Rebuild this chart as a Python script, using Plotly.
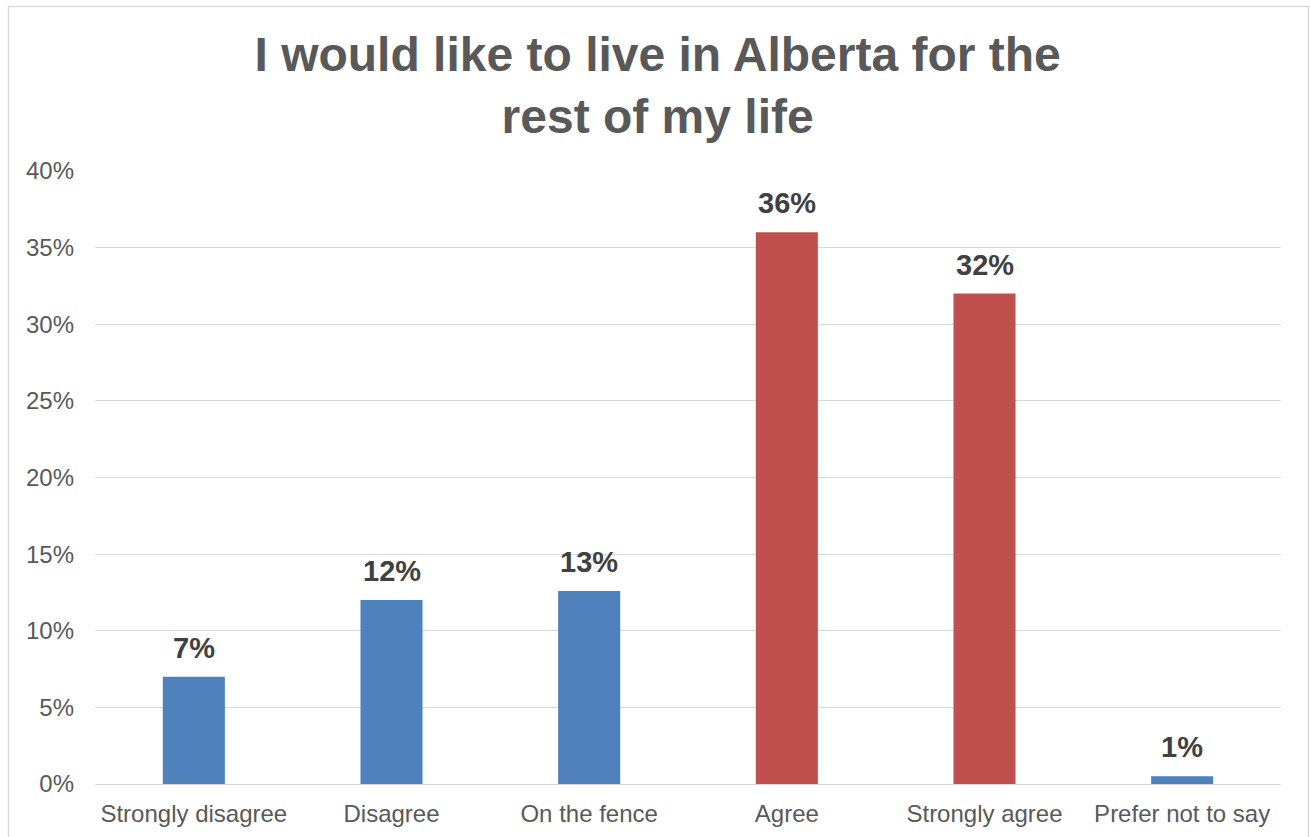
import plotly.graph_objects as go

categories = ["Strongly disagree", "Disagree", "On the fence", "Agree", "Strongly agree", "Prefer not to say"]
values = [7.0, 12.0, 12.6, 36.0, 32.0, 0.5]
labels = ["7%", "12%", "13%", "36%", "32%", "1%"]
bar_colors = ["#4F81BD", "#4F81BD", "#4F81BD", "#C0504D", "#C0504D", "#4F81BD"]
y_tickvals = [0, 5, 10, 15, 20, 25, 30, 35, 40]
y_ticktext = ["0%", "5%", "10%", "15%", "20%", "25%", "30%", "35%", "40%"]
title_text = "I would like to live in Alberta for the<br>rest of my life"

FONT = "Liberation Sans, Arial, sans-serif"

fig = go.Figure()
fig.add_trace(go.Bar(
    x=categories, y=values,
    marker=dict(color=bar_colors, line=dict(width=0)),
    hoverinfo="skip",
))

annotations = []
for c, v, t in zip(categories, values, labels):
    annotations.append(dict(
        x=c, y=v, xref="x", yref="y", text="<b>" + t + "</b>",
        showarrow=False, yanchor="bottom", yshift=11,
        font=dict(family=FONT, size=29, color="#404040"),
    ))

fig.update_layout(
    width=1310, height=837,
    margin=dict(l=95, r=29, t=171, b=53, autoexpand=False),
    paper_bgcolor="white", plot_bgcolor="white",
    bargap=0.686,
    showlegend=False,
    title=dict(
        text="<b>" + title_text + "</b>",
        x=0.502, xanchor="center", xref="container",
        y=1 - 71 / 837, yanchor="top", yref="container",
        font=dict(family=FONT, size=48, color="#595959"),
        automargin=False,
    ),
    annotations=annotations,
    shapes=[dict(
        type="rect", xref="paper", yref="paper",
        x0=(8.5 - 95) / 1186, x1=(1308.5 - 95) / 1186,
        y0=-0.2, y1=(784 - 6.5) / 613,
        line=dict(color="#D9D9D9", width=1.5), layer="below",
    )],
)

fig.update_xaxes(
    automargin=False,
    showgrid=False, showline=True, linecolor="#D9D9D9", linewidth=1,
    ticks="", ticklabelstandoff=8,
    tickfont=dict(family=FONT, size=24, color="#595959"),
)
fig.update_yaxes(
    automargin=False,
    range=[0, 40], tickvals=y_tickvals, ticktext=y_ticktext,
    showgrid=True, gridcolor="#D9D9D9", gridwidth=1,
    zeroline=False, showline=False, ticks="", ticklabelstandoff=20,
    tickfont=dict(family=FONT, size=24, color="#595959"),
)

fig.write_html(
    "out.html",
    config={"displayModeBar": False},
    post_script="document.body.style.margin='0px';document.body.style.overflow='hidden';",
)
